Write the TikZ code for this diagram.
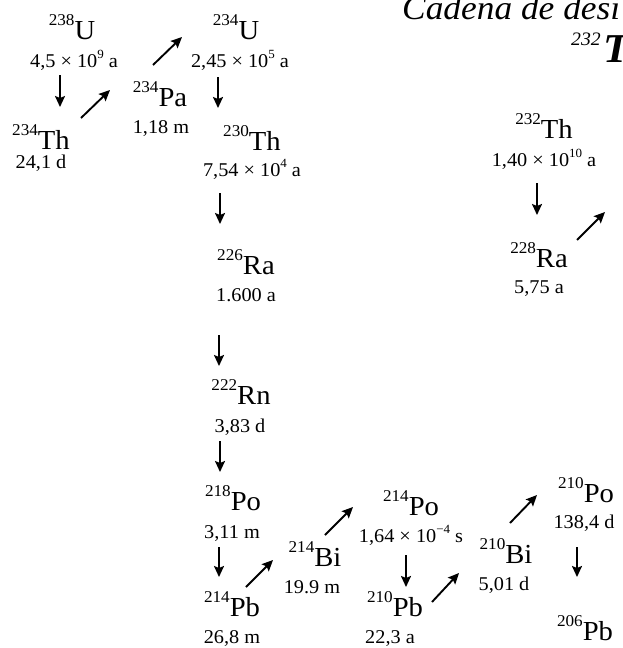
\documentclass[tikz,border=0pt]{standalone}
\usepackage{fontspec}
\setmainfont{Liberation Serif}[FakeStretch=1.04]
\usetikzlibrary{arrows.meta}
\newcommand{\ms}[1]{\raisebox{0.5em}{\fontsize{16.5}{16.5}\selectfont #1}}
\newcommand{\ex}[1]{\raisebox{0.42em}{\fontsize{12.5}{12.5}\selectfont #1}}
\tikzset{
  nm/.style={anchor=base, inner sep=0pt, font=\fontsize{27.5}{27.5}\selectfont},
  hl/.style={anchor=base, inner sep=0pt, font=\fontsize{19.5}{19.5}\selectfont},
  arr/.style={line width=1.9pt, -{Stealth[length=11pt,width=10pt,inset=2pt]}}
}
\begin{document}
\begin{tikzpicture}[x=1pt,y=-1pt]
\useasboundingbox (0,0) rectangle (622,648);
\clip (0,0) rectangle (622,648);
% title
\node[anchor=base west, inner sep=0pt, font=\fontsize{34}{34}\selectfont\itshape] (title) at (402,19) {Cadena de desi};
\node[anchor=base west, inner sep=0pt] (title2) at (571,62) {\raisebox{17pt}{\fontsize{19}{19}\selectfont\itshape 232}\kern3pt{\fontsize{41}{41}\selectfont\bfseries\itshape T}};
% uranium series
\node[nm] (U238) at (72,39) {\ms{238}U};
\node[hl] (U238t) at (74,67) {4,5 × 10\ex{9} a};
\node[nm] (Th234) at (41,149) {\ms{234}Th};
\node[hl] (Th234t) at (41,168) {24,1 d};
\node[nm] (Pa234) at (160,106) {\ms{234}Pa};
\node[hl] (Pa234t) at (161,133) {1,18 m};
\node[nm] (U234) at (236,39) {\ms{234}U};
\node[hl] (U234t) at (240,67) {2,45 × 10\ex{5} a};
\node[nm] (Th230) at (252,150) {\ms{230}Th};
\node[hl] (Th230t) at (252,176) {7,54 × 10\ex{4} a};
\node[nm] (Ra226) at (246,274) {\ms{226}Ra};
\node[hl] (Ra226t) at (246,301) {1.600 a};
\node[nm] (Rn222) at (241,404) {\ms{222}Rn};
\node[hl] (Rn222t) at (240,432) {3,83 d};
\node[nm] (Po218) at (233,510) {\ms{218}Po};
\node[hl] (Po218t) at (232,538) {3,11 m};
\node[nm] (Pb214) at (232,616) {\ms{214}Pb};
\node[hl] (Pb214t) at (232,643) {26,8 m};
\node[nm] (Bi214) at (315,566) {\ms{214}Bi};
\node[hl] (Bi214t) at (312,593) {19.9 m};
\node[nm] (Po214) at (411,515) {\ms{214}Po};
\node[hl] (Po214t) at (411,542) {1,64 × 10\ex{−4} s};
\node[nm] (Pb210) at (395,616) {\ms{210}Pb};
\node[hl] (Pb210t) at (390,643) {22,3 a};
\node[nm] (Bi210) at (506,563) {\ms{210}Bi};
\node[hl] (Bi210t) at (504,590) {5,01 d};
\node[nm] (Po210) at (586,502) {\ms{210}Po};
\node[hl] (Po210t) at (584,528) {138,4 d};
\node[nm] (Pb206) at (585,640) {\ms{206}Pb};
% thorium series
\node[nm] (Th232) at (544,138) {\ms{232}Th};
\node[hl] (Th232t) at (544,166) {1,40 × 10\ex{10} a};
\node[nm] (Ra228) at (539,267) {\ms{228}Ra};
\node[hl] (Ra228t) at (539,293) {5,75 a};
% arrow end points
\coordinate (a1s) at (60,75);   \coordinate (a1e) at (60,107);
\coordinate (a2s) at (81,118);  \coordinate (a2e) at (110,90);
\coordinate (a3s) at (153,65);  \coordinate (a3e) at (182,37);
\coordinate (a4s) at (218,77);  \coordinate (a4e) at (218,108);
\coordinate (a5s) at (220,193); \coordinate (a5e) at (220,224);
\coordinate (a6s) at (219,335); \coordinate (a6e) at (219,366);
\coordinate (a7s) at (220,441); \coordinate (a7e) at (220,472);
\coordinate (a8s) at (219,547); \coordinate (a8e) at (219,577);
\coordinate (a9s) at (246,587); \coordinate (a9e) at (273,560);
\coordinate (a10s) at (325,535); \coordinate (a10e) at (353,507);
\coordinate (a11s) at (406,555); \coordinate (a11e) at (406,587);
\coordinate (a12s) at (432,602); \coordinate (a12e) at (459,573);
\coordinate (a13s) at (510,523); \coordinate (a13e) at (537,495);
\coordinate (a14s) at (577,547); \coordinate (a14e) at (577,577);
\coordinate (a15s) at (537,183); \coordinate (a15e) at (537,215);
\coordinate (a16s) at (577,240); \coordinate (a16e) at (605,212);
\foreach \i in {1,...,16} {\draw[arr] (a\i s) -- (a\i e);}
\end{tikzpicture}
\end{document}
